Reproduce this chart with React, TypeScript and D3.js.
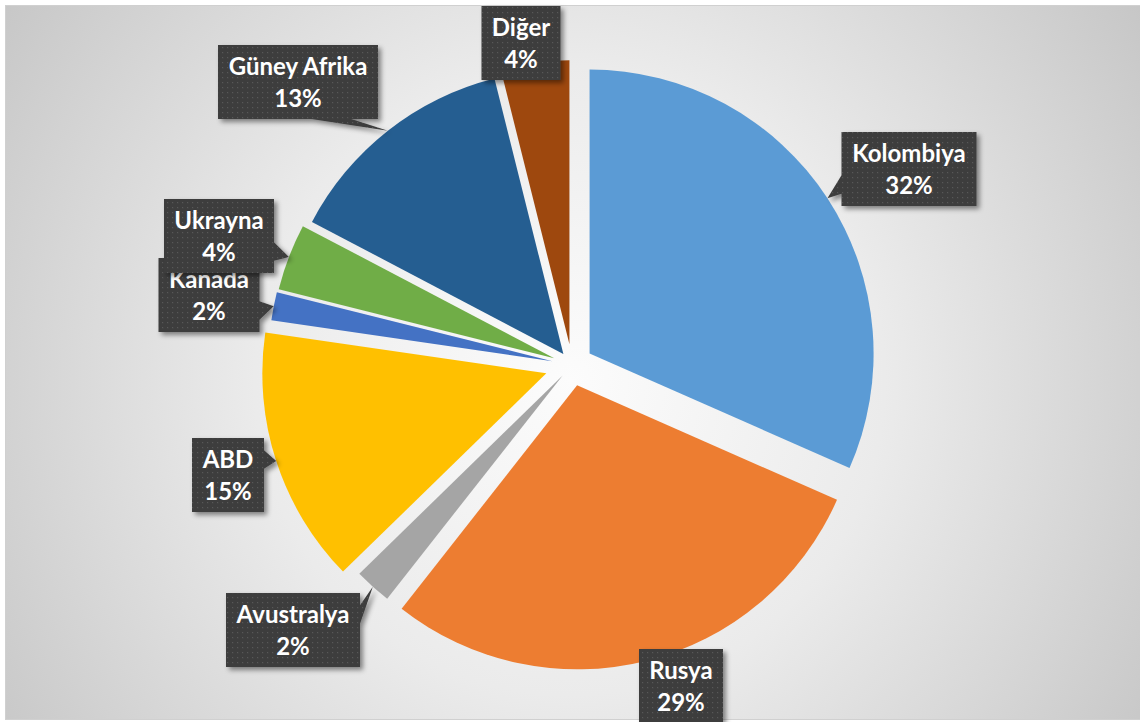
import React, { useEffect, useRef } from 'react';
import * as d3 from 'd3';

const countries = ['Kolombiya', 'Rusya', 'Avustralya', 'ABD', 'Kanada', 'Ukrayna', 'Güney Afrika', 'Diğer'];
const shares = [31.6, 29.0, 2.1, 14.6, 1.6, 3.8, 13.4, 3.9];
const sliceColors = ['#5b9bd5', '#ed7d31', '#a5a5a5', '#ffc000', '#4472c4', '#70ad47', '#255e91', '#9e480e'];
// how far each slice is pulled out of the pie (px)
const explode = [21, 21, 14, 27, 20, 19, 14, 21];
// label box centres, as they were dragged in the original
const labelCentres: [number, number][] = [
  [909, 169], [681, 686], [293, 630], [228, 475],
  [209, 295], [219, 236], [298, 82], [521, 43],
];

const W = 1140;
const H = 722;
const cx = 572;
const cy = 365;
const R = 284;

// Excel style wedge rectangle callout
function calloutPath(x0: number, y0: number, w: number, h: number, tx: number, ty: number) {
  const x1 = x0 + w, y1 = y0 + h;
  const dx = tx - (x0 + w / 2), dy = ty - (y0 + h / 2);
  if (tx >= x0 && tx <= x1 && ty >= y0 && ty <= y1) {
    return `M${x0},${y0}H${x1}V${y1}H${x0}Z`;
  }
  let pts: [number, number][];
  if (Math.abs(dy) > Math.abs(dx) * h / w) {
    const a = dx > 0 ? x0 + w * 7 / 12 : x0 + w * 2 / 12;
    const b = dx > 0 ? x0 + w * 10 / 12 : x0 + w * 5 / 12;
    pts = dy < 0
      ? [[x0, y0], [a, y0], [tx, ty], [b, y0], [x1, y0], [x1, y1], [x0, y1]]
      : [[x0, y0], [x1, y0], [x1, y1], [b, y1], [tx, ty], [a, y1], [x0, y1]];
  } else {
    const a = dy > 0 ? y0 + h * 7 / 12 : y0 + h * 2 / 12;
    const b = dy > 0 ? y0 + h * 10 / 12 : y0 + h * 5 / 12;
    pts = dx > 0
      ? [[x0, y0], [x1, y0], [x1, a], [tx, ty], [x1, b], [x1, y1], [x0, y1]]
      : [[x0, y0], [x1, y0], [x1, y1], [x0, y1], [x0, b], [tx, ty], [x0, a]];
  }
  return 'M' + pts.map(p => p.join(',')).join('L') + 'Z';
}

const App = () => {
  const svgRef = useRef<SVGSVGElement>(null);

  useEffect(() => {
    if (!svgRef.current) return;
    const svg = d3.select(svgRef.current);
    svg.selectAll('*').remove();

    const defs = svg.append('defs');
    const bg = defs.append('radialGradient').attr('id', 'bg')
      .attr('gradientUnits', 'userSpaceOnUse')
      .attr('cx', 570).attr('cy', 380).attr('r', 700);
    bg.append('stop').attr('offset', '0').attr('stop-color', '#fcfcfc');
    bg.append('stop').attr('offset', '0.45').attr('stop-color', '#ebebeb');
    bg.append('stop').attr('offset', '1').attr('stop-color', '#c5c5c5');

    const pat = defs.append('pattern').attr('id', 'dots')
      .attr('patternUnits', 'userSpaceOnUse').attr('width', 5).attr('height', 5);
    pat.append('rect').attr('width', 5).attr('height', 5).attr('fill', '#3e3e3e');
    pat.append('rect').attr('x', 2).attr('y', 2).attr('width', 1.2).attr('height', 1.2).attr('fill', '#585858');

    defs.append('filter').attr('id', 'shadow')
      .attr('x', '-20%').attr('y', '-20%').attr('width', '150%').attr('height', '150%')
      .append('feDropShadow')
      .attr('dx', 3).attr('dy', 3).attr('stdDeviation', 2.5)
      .attr('flood-color', '#000').attr('flood-opacity', 0.45);

    svg.append('rect')
      .attr('x', 5.5).attr('y', 5.5).attr('width', W).attr('height', 714)
      .attr('fill', 'url(#bg)').attr('stroke', '#d0d0d0');

    const pie = d3.pie<number>().sort(null).value(d => d);
    const arcs = pie(shares);
    const arc = d3.arc<d3.PieArcDatum<number>>().innerRadius(0).outerRadius(R);
    const total = d3.sum(shares);
    const pct = d3.format('.0%');
    const mid = (d: d3.PieArcDatum<number>) => (d.startAngle + d.endAngle) / 2;

    svg.append('g')
      .attr('transform', `translate(${cx},${cy})`)
      .selectAll('path')
      .data(arcs)
      .join('path')
      .attr('d', arc)
      .attr('fill', (d, i) => sliceColors[i])
      .attr('transform', (d, i) => {
        const m = mid(d);
        return `translate(${explode[i] * Math.sin(m)},${-explode[i] * Math.cos(m)})`;
      });

    arcs.forEach((d, i) => {
      const m = mid(d);
      const tx = cx + (explode[i] + R) * Math.sin(m);
      const ty = cy - (explode[i] + R) * Math.cos(m);
      const lg = svg.append('g');
      const t = lg.append('text')
        .attr('fill', '#fff')
        .attr('font-family', 'Lato, "Open Sans", sans-serif')
        .attr('font-weight', 'bold')
        .attr('font-size', 24)
        .attr('text-anchor', 'middle');
      const l1 = t.append('tspan').text(countries[i]);
      const l2 = t.append('tspan').text(pct(d.data / total));
      const tw = Math.max(
        (l1.node() as SVGTextContentElement).getComputedTextLength(),
        (l2.node() as SVGTextContentElement).getComputedTextLength(),
      );
      const w = Math.round(tw + 21);
      const h = 74;
      const [bx, by] = labelCentres[i];
      const x0 = bx - w / 2;
      const y0 = by - h / 2;
      l1.attr('x', bx).attr('y', y0 + 30);
      l2.attr('x', bx).attr('y', y0 + 62);
      lg.insert('path', 'text')
        .attr('d', calloutPath(x0, y0, w, h, tx, ty))
        .attr('fill', 'url(#dots)')
        .attr('filter', 'url(#shadow)');
    });
  }, []);

  return (
    <svg
      ref={svgRef}
      width={W}
      height={H}
      style={{ position: 'absolute', left: 0, top: 0, display: 'block', background: '#fff' }}
    />
  );
};

export default App;
